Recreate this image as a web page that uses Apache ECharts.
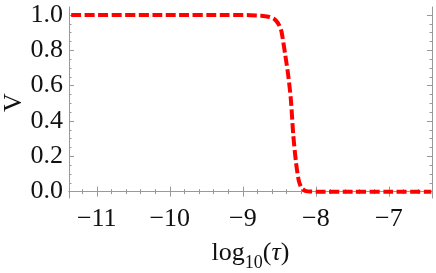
<!DOCTYPE html>
<html><head><meta charset="utf-8">
<script src="https://cdn.jsdelivr.net/npm/echarts@6/dist/echarts.min.js"></script>
<style>html,body{margin:0;padding:0;background:#fff}#c{width:436px;height:273px}</style>
</head><body><div id="c"></div>
<script>
const logTau = [-11.35, -10.0, -9.2, -8.9, -8.75, -8.65, -8.58, -8.54, -8.5, -8.47, -8.42, -8.38, -8.342, -8.31, -8.274, -8.237, -8.21, -8.19, -8.16, -8.13, -8.09, -8.0, -7.5, -7.0, -6.42];
const V      = [1.0, 1.0, 1.0, 0.999, 0.996, 0.99, 0.98, 0.965, 0.94, 0.905, 0.776, 0.663, 0.52, 0.323, 0.172, 0.068, 0.032, 0.018, 0.008, 0.003, 0.001, 0.0, 0.0, 0.0, 0.0];
const xTicks = [-11, -10, -9, -8, -7];
const yTicks = [0.0, 0.2, 0.4, 0.6, 0.8, 1.0];

const X_MIN = -11.38, X_MAX = -6.41, Y_MIN = -0.036, Y_MAX = 1.045;
const xMinor = [], yMinor = [];
for (let v = -11.2; v <= -6.5; v += 0.2) { const r = Math.round(v*10)/10; if (Math.abs(r - Math.round(r)) > 1e-6) xMinor.push(r); }
for (let v = 0; v <= 1.0001; v += 0.05) { const r = Math.round(v*100)/100; if (Math.abs(r*5 - Math.round(r*5)) > 1e-6) yMinor.push(r); }

const FRAME = '#999999';
const font = "'Liberation Serif', 'Times New Roman', serif";
const fmt = v => (v < 0 ? '\u2212' + Math.abs(v) : String(v));
const fmtY = v => v.toFixed(1);

function xa(pos, ticks, len, showLine, labels) {
  return {
    type: 'value', position: pos, min: X_MIN, max: X_MAX,
    axisLine: { show: showLine, lineStyle: { color: FRAME, width: 1 } },
    axisTick: { show: true, inside: true, length: len, customValues: ticks, lineStyle: { color: FRAME, width: 1 } },
    axisLabel: labels ? { show: true, customValues: ticks, formatter: fmt, fontFamily: font, fontSize: 26, color: '#111', margin: 8 } : { show: false },
    splitLine: { show: false }
  };
}
function ya(pos, ticks, len, showLine, labels) {
  return {
    type: 'value', position: pos, min: Y_MIN, max: Y_MAX,
    axisLine: { show: showLine, lineStyle: { color: FRAME, width: 1 } },
    axisTick: { show: true, inside: true, length: len, customValues: ticks, lineStyle: { color: FRAME, width: 1 } },
    axisLabel: labels ? { show: true, customValues: ticks, formatter: fmtY, fontFamily: font, fontSize: 26, color: '#111', margin: 6 } : { show: false },
    splitLine: { show: false }
  };
}

const xMain = xa('bottom', xTicks, 5, true, true);
xMain.name = '{a|log}{sub|10}{a|(}{it|\u03c4}{a|)}';
xMain.nameLocation = 'middle';
xMain.nameGap = 42;
xMain.nameMoveOverlap = false;
xMain.nameTextStyle = { fontFamily: font, fontSize: 26, color: '#111',
  rich: {
    a:   { fontFamily: font, fontSize: 26, lineHeight: 26, color: '#111', verticalAlign: 'top' },
    sub: { fontFamily: font, fontSize: 18, lineHeight: 46, color: '#111', verticalAlign: 'middle' },
    it:  { fontFamily: font, fontSize: 26, lineHeight: 26, fontStyle: 'italic', color: '#111', verticalAlign: 'top' } } };

const yMain = ya('left', yTicks, 5, true, true);
yMain.name = 'V';
yMain.nameLocation = 'middle';
yMain.nameGap = 42;
yMain.nameMoveOverlap = false;
yMain.nameTextStyle = { fontFamily: font, fontSize: 26, color: '#111' };

const chart = echarts.init(document.getElementById('c'), null, { renderer: 'canvas' });
chart.setOption({
  animation: false,
  backgroundColor: '#fff',
  grid: { left: 69, right: 4, top: 7, bottom: 75, containLabel: false, outerBoundsMode: 'none' },
  xAxis: [ xMain, xa('bottom', xMinor, 2.5, false, false), xa('top', xTicks, 5, true, false), xa('top', xMinor, 2.5, false, false) ],
  yAxis: [ yMain, ya('left', yMinor, 2.5, false, false), ya('right', yTicks, 5, true, false), ya('right', yMinor, 2.5, false, false) ],
  series: [{
    type: 'line', xAxisIndex: 0, yAxisIndex: 0,
    data: logTau.map((x, i) => [x, V[i]]),
    showSymbol: false, smooth: 0.25,
    lineStyle: { color: '#ff0000', width: 4, type: [10, 3.5], cap: 'butt' }
  }]
});
</script></body></html>
